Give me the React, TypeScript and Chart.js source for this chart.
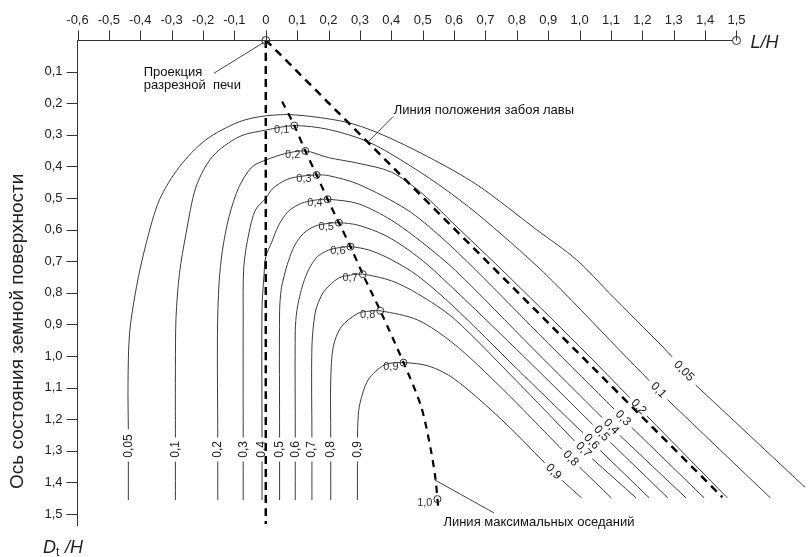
import React, { useEffect, useRef } from "react";
import { Chart, registerables } from "chart.js";

Chart.register(...registerables);

type Pt = [number, number] | null;

// ---------- axis ticks ----------
const xTicks = [-0.6, -0.5, -0.4, -0.3, -0.2, -0.1, 0, 0.1, 0.2, 0.3, 0.4, 0.5, 0.6, 0.7, 0.8, 0.9, 1.0, 1.1, 1.2, 1.3, 1.4, 1.5];
const xTickLabels = ["-0,6", "-0,5", "-0,4", "-0,3", "-0,2", "-0,1", "0", "0,1", "0,2", "0,3", "0,4", "0,5", "0,6", "0,7", "0,8", "0,9", "1,0", "1,1", "1,2", "1,3", "1,4", "1,5"];
const yTicks = [0.1, 0.2, 0.3, 0.4, 0.5, 0.6, 0.7, 0.8, 0.9, 1.0, 1.1, 1.2, 1.3, 1.4, 1.5];
const yTickLabels = ["0,1", "0,2", "0,3", "0,4", "0,5", "0,6", "0,7", "0,8", "0,9", "1,0", "1,1", "1,2", "1,3", "1,4", "1,5"];

// ---------- isolines (L/H, Dt/H); null = break for a label ----------
const levels = ["0,05", "0,1", "0,2", "0,3", "0,4", "0,5", "0,6", "0,7", "0,8", "0,9"];

const c005: Pt[] = [
  [-0.438, 1.456], [-0.438, 1.334], null,
  [-0.438, 1.232], [-0.439, 1.085], [-0.434, 0.927], [-0.412, 0.781], [-0.381, 0.643], [-0.339, 0.506],
  [-0.275, 0.401], [-0.191, 0.316], [-0.085, 0.259], [0, 0.24], [0.094, 0.237], [0.252, 0.259], [0.358, 0.294],
  [0.516, 0.369], [0.674, 0.459], [0.864, 0.601], [0.991, 0.696], [1.096, 0.802], [1.265, 0.971], [1.295, 1.003], null,
  [1.37, 1.092], [1.718, 1.415],
];
const c01: Pt[] = [
  [-0.288, 1.456], [-0.288, 1.334], null,
  [-0.288, 1.258], [-0.288, 1.034], [-0.286, 0.876], [-0.275, 0.738], [-0.254, 0.612], [-0.222, 0.464],
  [-0.17, 0.369], [-0.085, 0.306], [0, 0.285], [0.091, 0.271], [0.2, 0.283], [0.326, 0.322], [0.431, 0.38],
  [0.55, 0.457], [0.674, 0.55], [0.885, 0.735], [1.127, 0.981], [1.222, 1.078], null,
  [1.28, 1.138], [1.608, 1.449],
];
const c02: Pt[] = [
  [-0.153, 1.456], [-0.153, 1.334], null,
  [-0.153, 1.258], [-0.154, 0.928], [-0.149, 0.77], [-0.138, 0.665], [-0.117, 0.559], [-0.085, 0.464],
  [-0.043, 0.401], [0, 0.38], [0.06, 0.36], [0.126, 0.351], [0.199, 0.372], [0.294, 0.39], [0.4, 0.418],
  [0.5, 0.487], [0.6, 0.583], [0.753, 0.728], [1.0, 0.97], [1.16, 1.132], null,
  [1.215, 1.19], [1.471, 1.449],
];
const c03: Pt[] = [
  [-0.072, 1.456], [-0.072, 1.334], null,
  [-0.072, 1.258], [-0.072, 0.88], [-0.07, 0.717], [-0.054, 0.612], [-0.033, 0.538], [0, 0.501],
  [0.022, 0.47], [0.068, 0.441], [0.115, 0.431], [0.162, 0.427], [0.199, 0.429], [0.294, 0.456],
  [0.45, 0.537], [0.56, 0.625], [0.669, 0.728], [0.9, 0.96], [1.11, 1.168], null,
  [1.166, 1.226], [1.397, 1.449],
];
const c04: Pt[] = [
  [-0.012, 1.456], [-0.012, 1.334], null,
  [-0.012, 1.258], [-0.012, 0.85], [-0.006, 0.749], [0, 0.686], [0.019, 0.64], [0.04, 0.588],
  [0.072, 0.542], [0.113, 0.517], [0.155, 0.507], [0.197, 0.504], [0.294, 0.518], [0.4, 0.57],
  [0.5, 0.642], [0.605, 0.73], [0.85, 0.975], [1.073, 1.196], null,
  [1.129, 1.252], [1.339, 1.449],
];
const c05: Pt[] = [
  [0.044, 1.456], [0.044, 1.334], null,
  [0.044, 1.258], [0.044, 0.86], [0.049, 0.79], [0.059, 0.745], [0.072, 0.7], [0.091, 0.652],
  [0.12, 0.612], [0.157, 0.589], [0.195, 0.581], [0.233, 0.578], [0.294, 0.586], [0.38, 0.618],
  [0.46, 0.668], [0.537, 0.73], [0.8, 0.98], [1.042, 1.217], null,
  [1.098, 1.273], [1.281, 1.449],
];
const c06: Pt[] = [
  [0.094, 1.456], [0.094, 1.334], null,
  [0.094, 1.258], [0.094, 0.92], [0.099, 0.856], [0.108, 0.812], [0.12, 0.768], [0.138, 0.724],
  [0.164, 0.686], [0.2, 0.665], [0.235, 0.657], [0.27, 0.654], [0.33, 0.665], [0.4, 0.695],
  [0.484, 0.746], [0.6, 0.845], [0.8, 1.04], [1.01, 1.243], null,
  [1.066, 1.299], [1.222, 1.449],
];
const c07: Pt[] = [
  [0.147, 1.456], [0.147, 1.334], null,
  [0.147, 1.258], [0.147, 0.971], [0.157, 0.865], [0.172, 0.82], [0.189, 0.791], [0.231, 0.754],
  [0.27, 0.744], [0.309, 0.741], [0.4, 0.762], [0.484, 0.803], [0.6, 0.882], [0.8, 1.08], [0.984, 1.269], null,
  [1.04, 1.325], [1.18, 1.449],
];
const c08: Pt[] = [
  [0.207, 1.456], [0.207, 1.334], null,
  [0.207, 1.258], [0.207, 1.076], [0.215, 0.971], [0.241, 0.907], [0.294, 0.865], [0.33, 0.858],
  [0.365, 0.857], [0.484, 0.886], [0.6, 0.962], [0.75, 1.1], [0.944, 1.296], null,
  [1.0, 1.352], [1.101, 1.449],
];
const c09: Pt[] = [
  [0.292, 1.456], [0.292, 1.334], null,
  [0.292, 1.258], [0.294, 1.2], [0.3, 1.15], [0.326, 1.076], [0.379, 1.028], [0.439, 1.021],
  [0.52, 1.032], [0.6, 1.072], [0.75, 1.2], [0.889, 1.338], null,
  [0.945, 1.394], [1.006, 1.449],
];
const contours = [c005, c01, c02, c03, c04, c05, c06, c07, c08, c09];

// label anchors on the isolines
const leftLabelX = [-0.438, -0.288, -0.153, -0.072, -0.012, 0.044, 0.094, 0.147, 0.207, 0.292];
const leftLabelY = 1.322;
const rightLabelPos: [number, number][] = [
  [1.332, 1.048], [1.251, 1.108], [1.188, 1.161], [1.138, 1.197], [1.101, 1.224],
  [1.07, 1.245], [1.038, 1.271], [1.012, 1.297], [0.972, 1.324], [0.917, 1.366],
];

// ---------- max-subsidence points ----------
const peakPoints: [number, number][] = [
  [0.091, 0.271], [0.126, 0.351], [0.162, 0.427], [0.197, 0.504], [0.233, 0.578],
  [0.27, 0.654], [0.309, 0.741], [0.365, 0.857], [0.439, 1.021], [0.547, 1.453],
];
const peakLabels = ["0,1", "0,2", "0,3", "0,4", "0,5", "0,6", "0,7", "0,8", "0,9", "1,0"];

// ---------- dashed construction lines ----------
const zeroLine: [number, number][] = [[0, 0], [0, 1.532]];
const faceLine: [number, number][] = [[0, 0], [1.455, 1.447]];
const maxSubsidenceLine: [number, number][] = [
  [0.052, 0.195], [0.091, 0.271], [0.126, 0.351], [0.162, 0.427], [0.197, 0.504], [0.233, 0.578],
  [0.27, 0.654], [0.309, 0.741], [0.365, 0.857], [0.439, 1.021], [0.495, 1.16], [0.526, 1.297],
  [0.541, 1.39], [0.547, 1.453], [0.551, 1.492],
];

// ---------- annotations (data coordinates) ----------
const noteCut = { lines: ["Проекция", "разрезной  печи"], x: -0.389, y: [0.103, 0.143] };
const noteCutLeader: [number, number][] = [[-0.165, 0.105], [-0.007, 0.008]];
const noteFace = { text: "Линия положения забоя лавы", x: 0.408, y: 0.222 };
const noteFaceLeader: [number, number][] = [[0.406, 0.242], [0.326, 0.322]];
const noteMax = { text: "Линия максимальных оседаний", x: 0.566, y: 1.527 };
const noteMaxLeader: [number, number][] = [[0.538, 1.392], [0.728, 1.497]];

const FONT = '"Liberation Sans", Arial, sans-serif';
const AXIS = "#333";
const LINE = "#3c3c3c";

function splitPieces(pts: Pt[]) {
  const out: { x: number; y: number }[][] = [];
  let cur: { x: number; y: number }[] = [];
  for (const p of pts) {
    if (p === null) {
      if (cur.length) out.push(cur);
      cur = [];
    } else cur.push({ x: p[0], y: p[1] });
  }
  if (cur.length) out.push(cur);
  return out;
}

const toXY = (arr: [number, number][]) => arr.map((p) => ({ x: p[0], y: p[1] }));

const decor = {
  id: "decor",
  afterDatasetsDraw(chart: any) {
    const { ctx, chartArea: a } = chart;
    const xs = chart.scales.x;
    const ys = chart.scales.y;
    const X = (v: number) => xs.getPixelForValue(v);
    const Y = (v: number) => ys.getPixelForValue(v);
    ctx.save();

    // isoline labels
    ctx.fillStyle = "#222";
    ctx.font = `12px ${FONT}`;
    ctx.textBaseline = "middle";
    levels.forEach((lab, i) => {
      ctx.save();
      ctx.translate(X(leftLabelX[i]), Y(leftLabelY));
      ctx.rotate(-Math.PI / 2);
      ctx.textAlign = "left";
      ctx.fillText(lab, 0, 0);
      ctx.restore();
      const [rx, ry] = rightLabelPos[i];
      ctx.save();
      ctx.translate(X(rx), Y(ry));
      ctx.rotate(0.8);
      ctx.textAlign = "center";
      ctx.fillText(lab, 0, 0);
      ctx.restore();
    });

    // peak labels
    ctx.font = `11px ${FONT}`;
    ctx.fillStyle = "#333";
    ctx.textAlign = "right";
    peakPoints.forEach((p, i) => {
      ctx.fillText(peakLabels[i], X(p[0]) - 5, Y(p[1]) + 4);
    });

    // axes
    const top = a.top + 0.5;
    const left = a.left;
    ctx.strokeStyle = AXIS;
    ctx.lineWidth = 1;
    ctx.beginPath();
    ctx.moveTo(left, top);
    ctx.lineTo(X(1.5) - 4, top);
    ctx.moveTo(left, top);
    ctx.lineTo(left, a.bottom);
    xTicks.forEach((v) => {
      const xp = Math.round(X(v)) + 0.5;
      ctx.moveTo(xp, top - 10);
      ctx.lineTo(xp, top);
    });
    yTicks.forEach((v) => {
      const yp = Math.round(Y(v)) + 0.5;
      ctx.moveTo(left - 11, yp);
      ctx.lineTo(left, yp);
    });
    ctx.stroke();
    ctx.beginPath();
    ctx.arc(X(1.5), top, 4, 0, Math.PI * 2);
    ctx.stroke();
    ctx.beginPath();
    ctx.arc(X(0), top, 4, 0, Math.PI * 2);
    ctx.stroke();

    ctx.fillStyle = "#222";
    ctx.font = `13px ${FONT}`;
    ctx.textAlign = "center";
    ctx.textBaseline = "middle";
    xTicks.forEach((v, i) => ctx.fillText(xTickLabels[i], X(v), top - 20));
    ctx.textAlign = "right";
    yTicks.forEach((v, i) => ctx.fillText(yTickLabels[i], left - 15, Y(v)));

    // axis titles
    ctx.textAlign = "left";
    ctx.textBaseline = "alphabetic";
    ctx.font = `italic 18px ${FONT}`;
    ctx.fillText("L/H", X(1.5) + 14, top + 7);
    ctx.fillText("D", 43, 553);
    ctx.font = `12px ${FONT}`;
    ctx.fillText("t", 56, 556);
    ctx.font = `italic 18px ${FONT}`;
    ctx.fillText("/H", 65, 553);

    ctx.save();
    ctx.translate(18, 489);
    ctx.rotate(-Math.PI / 2);
    ctx.font = `19px ${FONT}`;
    ctx.textBaseline = "middle";
    ctx.textAlign = "left";
    ctx.fillText("Ось состояния земной поверхности", 0, 0);
    ctx.restore();

    // annotations
    ctx.font = `13px ${FONT}`;
    ctx.textBaseline = "middle";
    ctx.textAlign = "left";
    ctx.fillStyle = "#111";
    noteCut.lines.forEach((t, i) => ctx.fillText(t, X(noteCut.x), Y(noteCut.y[i])));
    ctx.fillText(noteFace.text, X(noteFace.x), Y(noteFace.y));
    ctx.fillText(noteMax.text, X(noteMax.x), Y(noteMax.y));
    ctx.strokeStyle = "#444";
    ctx.lineWidth = 1;
    [noteCutLeader, noteFaceLeader, noteMaxLeader].forEach((l) => {
      ctx.beginPath();
      ctx.moveTo(X(l[0][0]), Y(l[0][1]));
      ctx.lineTo(X(l[1][0]), Y(l[1][1]));
      ctx.stroke();
    });

    ctx.restore();
  },
};

export default function App() {
  const ref = useRef<HTMLCanvasElement | null>(null);
  useEffect(() => {
    if (!ref.current) return;
    const datasets: any[] = [];
    datasets.push({
      data: toXY(peakPoints),
      showLine: false,
      pointRadius: 3.5,
      pointBorderWidth: 1,
      pointBorderColor: "#333",
      pointBackgroundColor: "rgba(255,255,255,0)",
      borderColor: "#333",
      order: 0,
    });
    const dashed = (pts: [number, number][], dash: number[], w: number) => ({
      data: toXY(pts),
      borderColor: "#000",
      borderWidth: w,
      borderDash: dash,
      pointRadius: 0,
      tension: 0.3,
      fill: false,
      order: 1,
    });
    datasets.push(dashed(zeroLine, [8, 5], 2.5));
    datasets.push(dashed(faceLine, [8, 6], 2.5));
    datasets.push(dashed(maxSubsidenceLine, [7, 6], 2.2));
    contours.forEach((c) => {
      splitPieces(c).forEach((piece) => {
        datasets.push({
          data: piece,
          borderColor: LINE,
          borderWidth: 1,
          pointRadius: 0,
          tension: 0.3,
          fill: false,
          order: 2,
        });
      });
    });

    const chart = new Chart(ref.current, {
      type: "line",
      data: { datasets },
      options: {
        animation: false,
        responsive: false,
        maintainAspectRatio: false,
        devicePixelRatio: 1,
        events: [],
        layout: { padding: { left: 77.5, top: 40, right: 0, bottom: 31 } },
        scales: {
          x: { type: "linear", min: -0.6, max: 1.7215, display: false },
          y: { type: "linear", reverse: true, min: 0, max: 1.538, display: false },
        },
        plugins: { legend: { display: false }, tooltip: { enabled: false } },
      },
      plugins: [decor],
    } as any);
    return () => chart.destroy();
  }, []);
  return (
    <div style={{ position: "absolute", left: 0, top: 0, width: 811, height: 557, background: "#fff" }}>
      <canvas ref={ref} width={811} height={557} style={{ display: "block" }} />
    </div>
  );
}
